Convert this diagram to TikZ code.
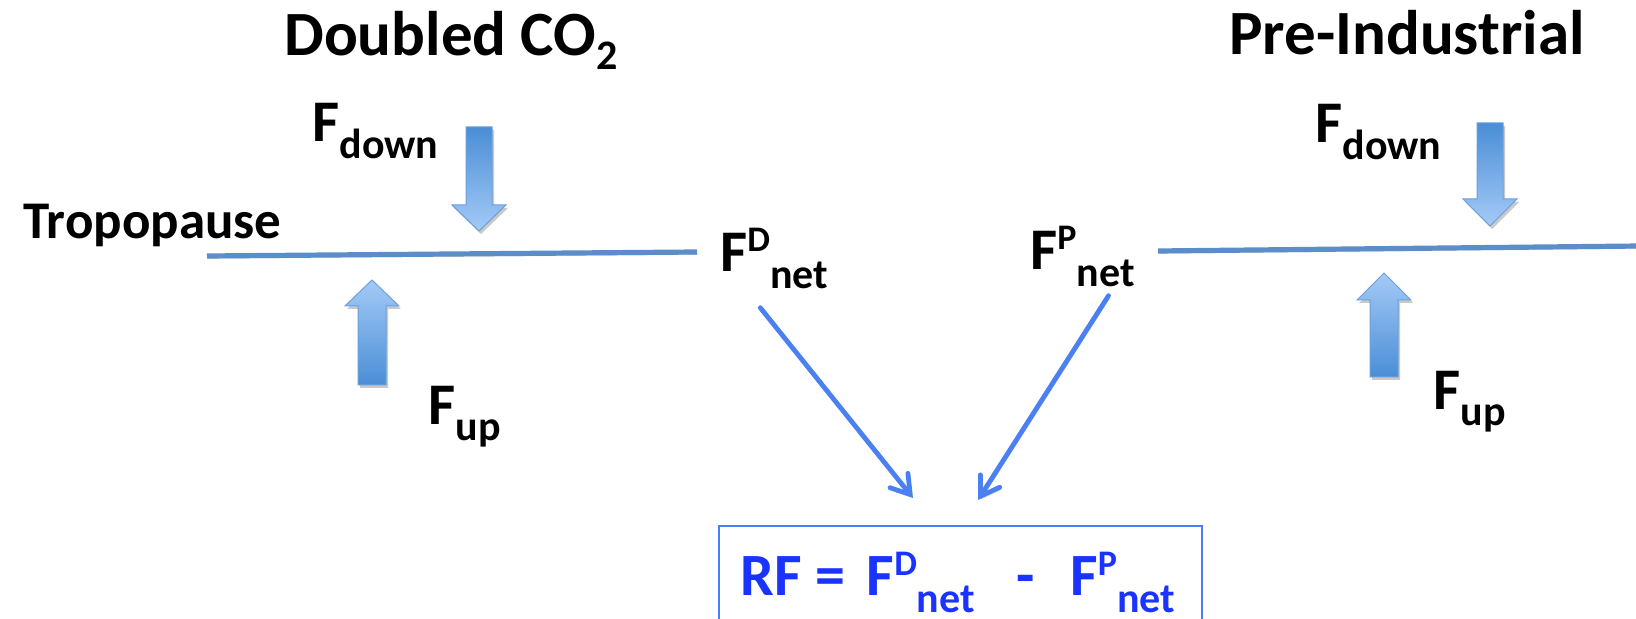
\documentclass[tikz,border=0pt]{standalone}
\usepackage{fontspec}
\setmainfont{Carlito}
\usepackage{tikz}
\usetikzlibrary{arrows.meta,calc,shadows}

\definecolor{fluxdark}{HTML}{4A8ED6}
\definecolor{fluxlight}{HTML}{A4CAF7}
\definecolor{fluxedge}{HTML}{6B9FDA}
\definecolor{tropoblue}{HTML}{5B8DC8}
\definecolor{flowblue}{HTML}{4A80F2}
\definecolor{rfblue}{HTML}{1A33FF}
\definecolor{rfedge}{HTML}{4C7CFF}

% raised and lowered indices as the slide sets them
\newcommand{\raiseit}[1]{\raisebox{10pt}{\fontsize{18}{18}\selectfont #1}}
\newcommand{\lowerit}[1]{\raisebox{-8.5pt}{\fontsize{21}{21}\selectfont #1}}
\newcommand{\lowerco}[1]{\raisebox{-7pt}{\fontsize{21}{21}\selectfont #1}}

\tikzset{
  heading/.style = {font=\fontsize{31.5}{36}\selectfont\bfseries, inner sep=0pt, anchor=base west},
  tropolabel/.style = {font=\fontsize{26.5}{30}\selectfont\bfseries, inner sep=0pt, anchor=base west},
  flux/.style = {font=\fontsize{29.5}{32}\selectfont\bfseries, inner sep=0pt, anchor=base west},
  softshadow/.style = {preaction={draw=black, opacity=0.13, transform canvas={xshift=0.6pt, yshift=-1.2pt}}},
  tropo/.style = {draw=tropoblue, line width=2.6pt, softshadow},
  fluxdown/.style = {draw=fluxedge, line width=0.5pt, top color=fluxdark, bottom color=fluxlight,
    drop shadow={shadow xshift=1pt, shadow yshift=-1.5pt, opacity=0.3, fill=black!70}},
  fluxup/.style = {draw=fluxedge, line width=0.5pt, top color=fluxlight, bottom color=fluxdark,
    drop shadow={shadow xshift=1pt, shadow yshift=-1.5pt, opacity=0.3, fill=black!70}},
  flow/.style = {draw=flowblue, line width=2.4pt, line cap=round, softshadow,
    -{Straight Barb[length=9pt, width=11.5pt, line cap=round]}},
  result/.style = {draw=rfedge, line width=1pt, minimum width=241.5pt, minimum height=75pt,
    anchor=north west, inner sep=0pt},
  resulttext/.style = {font=\fontsize{30}{34}\selectfont\bfseries, text=rfblue, inner sep=0pt, anchor=base west}
}

\begin{document}
\begin{tikzpicture}[x=0.5pt, y=-0.5pt]
    \useasboundingbox (0,0) rectangle (1636,619);
    \clip (0,0) rectangle (1636,619);
    % Titles
    \node [heading] (doubled) at (284,56) {Doubled CO\lowerco{2}};
    \node [heading] (preind) at (1229,55) {Pre-Industrial};
    \node [tropolabel] (tropopause) at (23,239) {Tropopause};
    % Tropopause lines
    \draw [tropo] (207,256) -- (697,252);
    \draw [tropo] (1158,251) -- (1640,246);
    % Block arrows
    \path [fluxdown] (466,127) -- (492,127) -- (492,205) -- (506,205) -- (479,231) -- (452,205) -- (466,205) -- cycle;
    \path [fluxup] (358,385) -- (386,385) -- (386,306) -- (399,306) -- (372,280) -- (345,306) -- (358,306) -- cycle;
    \path [fluxdown] (1477,123) -- (1503,123) -- (1503,199) -- (1517,199) -- (1490,226) -- (1463,199) -- (1477,199) -- cycle;
    \path [fluxup] (1370,377) -- (1398,377) -- (1398,300) -- (1411,300) -- (1384,273) -- (1357,300) -- (1370,300) -- cycle;
    % Flux labels
    \node [flux] (fdownD) at (312,142) {F\lowerit{down}};
    \node [flux] (fupD) at (428,424) {F\lowerit{up}};
    \node [flux] (fdownP) at (1315,143) {F\lowerit{down}};
    \node [flux] (fupP) at (1433,409) {F\lowerit{up}};
    \node [flux] (netD) at (720,272) {F\raiseit{D}\lowerit{net}};
    \node [flux] (netP) at (1030,270) {F\raiseit{P}\lowerit{net}};
    % Result box
    \node [result] (rf) at (718,525) {};
    \node [resulttext] (rfeq) at (740,595) {RF = \hspace{4pt}F\raiseit{D}\lowerit{net}\hspace{21pt}-\hspace{17.5pt}F\raiseit{P}\lowerit{net}};
    \draw [flow] ($(netD.south)+(-14,18)$) -- ($(rf.north)+(-47.5,-27)$);
    \draw [flow] ($(netP.south)+(26,8)$) -- ($(rf.north)+(17.5,-25)$);
\end{tikzpicture}
\end{document}
